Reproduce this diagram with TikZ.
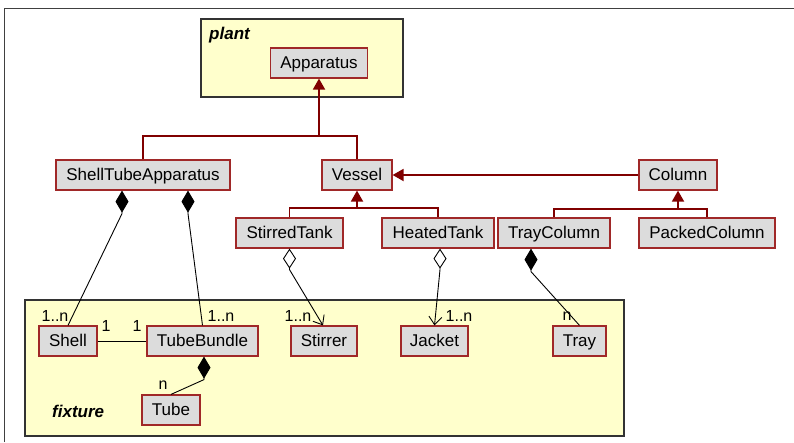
\documentclass[tikz,border=0pt]{standalone}
\usepackage{fontspec}
\setmainfont{Liberation Sans}
\usetikzlibrary{arrows.meta}
\definecolor{boxred}{HTML}{A02828}
\definecolor{genred}{HTML}{800000}
\definecolor{boxgray}{HTML}{DCDCDC}
\definecolor{pkgyellow}{HTML}{FFFFCC}
\begin{document}
\begin{tikzpicture}[x=1pt,y=-1pt,
  cls/.style={draw=boxred, fill=boxgray, line width=1.2pt, minimum height=30pt, inner sep=0pt, text height=13.5pt, text depth=2.5pt, font=\fontsize{17}{20}\selectfont},
  pkg/.style={draw=black!80, fill=pkgyellow, line width=1.3pt, inner sep=0pt},
  pkglabel/.style={font=\fontsize{17}{20}\selectfont\bfseries\itshape, inner sep=0pt, anchor=west},
  mult/.style={font=\fontsize{16}{19}\selectfont, inner sep=0pt},
  gen/.style={draw=genred, line width=1.8pt},
  genline/.style={draw=genred, line width=1.8pt, shorten >=8pt},
  genarrow/.style={draw=genred, -{Triangle[width=12pt,length=11pt]}, line width=1.8pt},
  comp/.style={draw=black, line width=0.9pt, {Diamond[width=13pt,length=22pt]}-},
  agg/.style={draw=black, line width=0.9pt, {Diamond[open,width=13pt,length=20pt,fill=white]}-{Straight Barb[length=8pt,width=13pt]}}
]
\useasboundingbox (0,0) rectangle (794,442);
\fill[white] (0,0) rectangle (794,442);
\draw[black!75, line width=1.5pt] (4.5,442) -- (4.5,8.5) -- (794,8.5);

% packages
\node[pkg, minimum width=202pt, minimum height=78pt] (plant) at (302,58) {};
\node[pkglabel] (plantlbl) at (209,35) {plant};
\node[pkg, minimum width=599pt, minimum height=136pt] (fixture) at (324.5,368) {};
\node[pkglabel] (fixlbl) at (52,411) {fixture};

% classes
\node[cls, minimum width=97pt] (app) at (319,63) {Apparatus};
\node[cls, minimum width=174pt] (sta) at (143,175) {ShellTubeApparatus};
\node[cls, minimum width=70pt] (vessel) at (357,175) {Vessel};
\node[cls, minimum width=78pt] (column) at (678,175) {Column};
\node[cls, minimum width=107pt] (stirred) at (289.5,233) {StirredTank};
\node[cls, minimum width=112pt] (heated) at (438,233) {HeatedTank};
\node[cls, minimum width=112pt] (traycol) at (554,233) {TrayColumn};
\node[cls, minimum width=136pt] (packed) at (707,233) {PackedColumn};
\node[cls, minimum width=58pt] (shell) at (68,341) {Shell};
\node[cls, minimum width=111pt] (bundle) at (202.5,341) {TubeBundle};
\node[cls, minimum width=66pt] (stirrer) at (324,341) {Stirrer};
\node[cls, minimum width=67pt] (jacket) at (434.5,341) {Jacket};
\node[cls, minimum width=53pt] (tray) at (579.5,341) {Tray};
\node[cls, minimum width=58pt] (tube) at (171,410) {Tube};

% generalizations
\coordinate (a1) at (319,136);
\draw[gen] (sta.north) |- (a1);
\draw[gen] (vessel.north) |- (a1);
\draw[genline] (a1) -- (app.south);
\draw[genarrow] (a1) -- (app.south);

\coordinate (v1) at (357,208);
\draw[gen] (stirred.north) |- (v1);
\draw[gen] (heated.north) |- (v1);
\draw[genline] (v1) -- (vessel.south);
\draw[genarrow] (v1) -- (vessel.south);

\coordinate (c1) at (678,209);
\draw[gen] (traycol.north) |- (c1);
\draw[gen] (packed.north) |- (c1);
\draw[genline] (c1) -- (column.south);
\draw[genarrow] (c1) -- (column.south);

\draw[genline] (column.west) -- (vessel.east);
\draw[genarrow] (column.west) -- (vessel.east);

% compositions
\draw[comp] ([xshift=-21pt]sta.south) -- ++(0,23) -- (shell.north);
\draw[comp] ([xshift=45pt]sta.south) -- ++(0,23) -- (bundle.north);
\draw[comp] ([xshift=1.5pt]bundle.south) -- ++(0,23) -- (tube.north);
\draw[comp] ([xshift=-23pt]traycol.south) -- ++(0,23) -- (tray.north);
\draw[black, line width=0.9pt] (shell.east) -- (bundle.west);

% aggregations
\draw[agg] (stirred.south) -- ++(0,21) -- ([xshift=-1pt]stirrer.north);
\draw[agg] ([xshift=2pt]heated.south) -- ++(0,21) -- (jacket.north);

% multiplicities
\node[mult] (m1) at (55,316) {1..n};
\node[mult] (m2) at (106,326) {1};
\node[mult] (m3) at (137,326) {1};
\node[mult] (m4) at (221,316) {1..n};
\node[mult] (m5) at (163,385) {n};
\node[mult] (m6) at (298,316) {1..n};
\node[mult] (m7) at (459,316) {1..n};
\node[mult] (m8) at (567,316) {n};
\end{tikzpicture}
\end{document}
